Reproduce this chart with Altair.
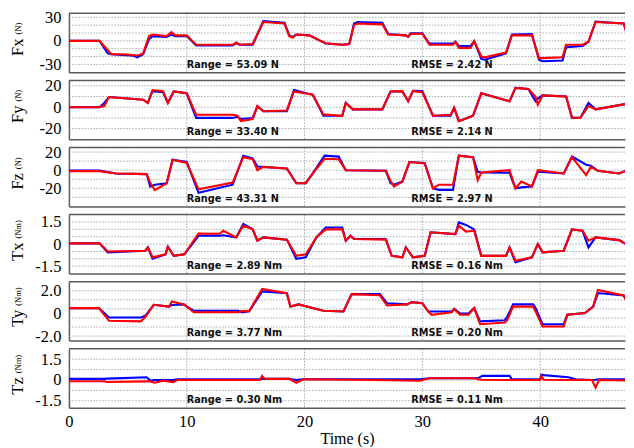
import altair as alt
import pandas as pd

# ---------------- data ----------------
FX_T = [0, 2.6, 3.3, 3.6, 4.5, 5.5, 5.8, 6.3, 6.8, 7.1, 8.3, 8.7, 9.0, 10.0, 10.8, 13.9, 14.2, 14.5, 15.6,
        16.5, 18.3, 18.7, 19.0, 19.3, 20.4, 21.8, 23.2, 23.8, 24.2, 24.5, 26.6, 27.1, 28.6, 28.8, 29.0, 30.0,
        30.6, 32.6, 32.8, 33.1, 34.1, 34.4, 35.0, 35.3, 37.1, 37.6, 39.3, 39.9, 40.2, 41.9, 42.2, 43.6, 44.1,
        44.7, 47.1, 47.5, 48.0]
FX_B = [0, 0, -16, -17, -18, -19, -21, -17, 2, 6, 5, 8, 6, 6, -6, -6, -3, -5, -5,
        25, 23, 7, 5, 8, 7, -3.5, -5, -4, 22, 24, 23, 8.6, 7, 5, 9.5, 9.5,
        -3.5, -3.5, -1, -6.5, -6.5, -0.5, -23, -24, -16, 8, 8.6, -24, -26, -25, -8, -6.5, -1.3,
        24.5, 22, 1, 0]
FX_R = [0, 0, -12, -17, -17, -18, -19, -16, 6, 8, 6, 11, 7, 7, -5, -5, -2, -5, -4,
        24, 22, 6, 4, 8, 7, -3, -5, -4, 20, 22, 21, 8, 7, 5, 9, 9,
        -5, -5, -1, -9, -9, -0.5, -20, -21, -15, 7, 7, -22, -22, -21, -5, -5, -1,
        24, 22, 1, 0]

FY_T = [0, 2.6, 3.0, 3.4, 6.3, 6.7, 7.1, 8.0, 8.4, 8.9, 10.0, 10.8, 13.9, 14.3, 14.6, 15.6, 16.0, 16.5,
        18.5, 19.1, 20.7, 21.6, 23.2, 23.5, 24.1, 26.6, 27.3, 28.3, 28.8, 29.2, 30.0, 30.9, 32.4, 32.7,
        33.1, 34.3, 35.0, 37.4, 37.9, 39.0, 39.6, 39.8, 40.2, 42.2, 42.7, 43.4, 44.1, 44.7, 47.8, 48.0]
FY_B = [0, 0, 4, 9.5, 7, 4, 15, 14, 4, 14.7, 13, -10, -10, -9, -11, -10, 1, -3.7,
        -3.7, 16, 11.6, -8, -8, 4, -2, -2, 14.7, 14.7, 5.5, 15.3, 15, -8, -8, -0.6,
        -13, -8, 13, 5.5, 18, 17, 5.5, 8, 11, 10, -9.8, -10, 4, -2, 4, 4]
FY_R = [0, 0, 1, 9.5, 7, 4, 16, 15, 4, 14.7, 13, -7, -7, -8, -13, -11, 1, -3.7,
        -3, 14.7, 11.6, -6.7, -8, 4, -2, -2, 14.7, 15, 5.5, 15, 14, -8, -7, -0.6,
        -13, -8, 13, 5.5, 18, 17, 10, 2.4, 11, 10, -9.8, -10, 1, -2, 4, 4]

FZ_T = [0, 2.6, 4.0, 6.6, 6.9, 7.3, 8.3, 8.8, 10.0, 11.0, 13.9, 14.8, 15.6, 16.0, 16.5, 18.5, 19.3, 20.1,
        20.7, 21.7, 22.9, 23.5, 26.9, 27.3, 27.6, 28.3, 28.9, 30.2, 30.9, 31.4, 32.6, 33.1, 34.3, 34.7,
        35.0, 37.4, 37.9, 38.4, 39.3, 39.8, 42.0, 42.7, 43.9, 44.3, 44.9, 46.7, 47.8, 48.0]
FZ_B = [-0.5, -0.5, -3.6, -4.3, -18, -16, -14.4, 11.5, 9, -25, -16, 16, 13, 4, 3.6, 1.8, -14.4, -14.4,
        -3.6, 16, 15, 0, -0.7, -14.4, -16, -12.6, 9, 8, -20, -21.7, -21.7, 16, 14.4, -1.8,
        -2.5, -2.9, -20, -19, -18, -1.8, -3.6, 15, 6, 5, -0.7, -3.6, 1.8, 1.8]
FZ_R = [-1, -1, -3.6, -4.3, -14, -22, -14.4, 11.5, 8, -21, -13.7, 14.4, 12, 0, 3.6, 1.8, -14.4, -14.4,
        -3.6, 12.6, 12, 0, -0.7, -12, -18, -12.6, 9, 7.5, -20, -16, -16, 16, 14.4, -11,
        -2.5, 0, -20, -12.6, -18, 0, -3.6, 14.4, -5.4, 3.6, -0.7, -3.6, 1.8, 1.8]

TX_T = [0, 2.6, 3.3, 6.5, 6.7, 7.1, 8.2, 8.4, 8.9, 9.8, 11.0, 12.8, 13.1, 14.2, 14.8, 15.6, 16.0, 16.5,
        18.5, 19.3, 20.1, 21.0, 21.8, 23.2, 23.5, 23.9, 24.2, 26.9, 27.4, 28.3, 28.6, 29.2, 30.2, 30.7,
        32.8, 33.1, 33.7, 34.4, 35.0, 37.1, 37.4, 37.9, 39.3, 39.8, 40.2, 42.0, 42.7, 43.6, 44.1, 44.7,
        46.7, 47.8, 48.0]
TX_B = [0.05, 0.05, -0.56, -0.45, -0.23, -1.0, -0.7, -0.18, -0.8, -0.7, 0.56, 0.56, 0.6, 0.45, 1.36, 1.0, 0.23, 0.45,
        0.3, -1.0, -0.9, 0.45, 1.13, 1.13, 0.23, 0.57, 0.34, 0.34, -0.8, -0.9, -0.23, -0.9, -0.8, 0.8,
        0.68, 1.47, 1.3, 1.0, -0.8, -0.8, -0.23, -1.24, -0.9, 0.0, -0.56, -0.45, 1.0, 0.9, -0.23, 0.45,
        0.27, -0.23, -0.23]
TX_R = [0.05, 0.05, -0.5, -0.45, -0.23, -0.9, -0.7, -0.18, -0.8, -0.7, 0.72, 0.7, 0.9, 0.45, 1.24, 1.0, 0.23, 0.45,
        0.3, -0.8, -0.7, 0.45, 1.0, 1.0, 0.23, 0.57, 0.34, 0.3, -0.8, -0.9, -0.23, -0.9, -0.8, 0.8,
        0.68, 1.24, 0.85, 0.9, -0.8, -0.8, -0.23, -1.13, -0.9, 0.0, -0.56, -0.45, 1.0, 0.9, 0.23, 0.45,
        0.27, -0.23, -0.23]

TY_T = [0, 2.55, 3.4, 6.1, 6.5, 7.2, 8.5, 8.75, 9.75, 10.6, 14.4, 14.7, 15.3, 16.4, 18.5, 18.8, 19.5, 21.6,
        23.3, 24.0, 26.4, 27.0, 28.7, 29.1, 30.0, 30.5, 30.8, 32.5, 32.7, 33.2, 33.9, 34.4, 34.9, 37.0,
        37.2, 37.7, 39.4, 39.6, 40.2, 42.0, 42.3, 43.8, 44.5, 44.9, 47.1, 47.6, 48.0]
TY_B = [0.47, 0.47, -0.36, -0.36, -0.2, 0.76, 0.6, 0.75, 0.8, 0.23, 0.23, 0.1, 0.2, 1.94, 1.79, 0.61, 0.8, 0.23,
        0.17, 1.7, 1.7, 0.9, 0.8, 1.0, 0.9, 0.17, 0.17, 0.17, 0.4, 0.0, 0.0, 0.47, -0.7, -0.6,
        -0.3, 0.8, 0.8, 0.5, -0.95, -0.95, -0.12, 0.03, 0.6, 1.8, 1.58, 0.47, 0.47]
TY_R = [0.47, 0.47, -0.65, -0.7, -0.3, 0.76, 0.6, 1.06, 0.8, 0.1, 0.1, 0.2, 0.2, 2.17, 1.79, 0.61, 0.8, 0.23,
        0.17, 1.7, 1.6, 0.7, 0.8, 1.0, 0.9, 0.17, -0.12, 0.1, 0.4, -0.12, -0.12, 0.47, -0.95, -0.8,
        -0.6, 0.6, 0.6, 0.2, -1.15, -1.15, -0.12, 0.03, 0.6, 2.08, 1.58, 0.47, 0.47]

TZ_T = [0, 3.05, 3.2, 6.6, 6.9, 7.3, 8.0, 8.85, 9.2, 16.2, 16.4, 16.6, 18.7, 19.3, 19.9, 25.8, 29.8, 30.6,
        34.5, 34.7, 35.1, 37.4, 37.6, 40.0, 40.1, 40.3, 42.4, 43.0, 44.4, 44.7, 45.0, 47.8, 48.0]
TZ_B = [0.08, 0.08, 0.1, 0.2, -0.04, 0.0, 0.0, 0.0, 0.05, 0.05, 0.08, 0.08, 0.08, 0.0, 0.05, 0.05, 0.05, 0.12,
        0.12, 0.12, 0.3, 0.3, 0.05, 0.05, 0.38, 0.35, 0.2, 0.05, 0.0, 0.02, 0.05, 0.05, 0.05]
TZ_R = [-0.09, -0.09, -0.15, -0.1, -0.1, -0.2, -0.05, -0.15, 0.0, 0.0, 0.3, 0.08, 0.08, -0.2, 0.05, 0.0, -0.05, 0.12,
        0.12, 0.05, 0.02, 0.0, 0.0, 0.0, 0.3, 0.02, 0.0, 0.0, 0.0, -0.55, 0.0, -0.05, -0.05]

SERIES = [(FX_T, FX_B, FX_R), (FY_T, FY_B, FY_R), (FZ_T, FZ_B, FZ_R),
          (TX_T, TX_B, TX_R), (TY_T, TY_B, TY_R), (TZ_T, TZ_B, TZ_R)]
NAMES = ["Fx", "Fy", "Fz", "Tx", "Ty", "Tz"]
UNITS = ["(N)", "(N)", "(N)", "(Nm)", "(Nm)", "(Nm)"]
RANGE_LABELS = ["Range = 53.09 N", "Range = 33.40 N", "Range = 43.31 N",
                "Range = 2.89 Nm", "Range = 3.77 Nm", "Range = 0.30 Nm"]
RMSE_LABELS = ["RMSE = 2.42 N", "RMSE = 2.14 N", "RMSE = 2.97 N",
               "RMSE = 0.16 Nm", "RMSE = 0.20 Nm", "RMSE = 0.11 Nm"]
ANNOT_T = [10, 29.05]
Y_DOMAINS = [[-40, 35], [-30, 25], [-40, 25], [-2, 2], [-2.4, 2.8], [-2, 2.25]]
Y_TICKS = [[-30, 0, 30], [-20, 0, 20], [-20, 0, 20], [-1.5, 0, 1.5], [-2, 0, 2], [-1.5, 0, 1.5]]
Y_GRID = [[-30, -20, -10, 0, 10, 20, 30], [-20, -10, 0, 10, 20], [-30, -20, -10, 0, 10, 20],
          [-1.5, -1, -0.5, 0, 0.5, 1, 1.5], [-2, -1.2, -0.4, 0.4, 1.2, 2], [-1.5, -0.75, 0, 0.75, 1.5]]
Y_FMT = ["d", "d", "d", ".1f", ".1f", ".1f"]
X_TICKS = [0, 10, 20, 30, 40]
X_GRID = [10, 20, 30, 40]
X_DOMAIN = [0, 47.2]

# ---------------- styling ----------------
W, H = 557, 59
SERIF = "Liberation Serif"
FRAME = "#5a5a5a"
GRIDC = "#aaaaaa"
BLUE, RED = "#0000ff", "#ff0000"

CHAR_W = {"F": 0.556, "T": 0.611, "x": 0.5, "y": 0.5, "z": 0.444,
          "(": 0.333, ")": 0.333, "N": 0.722, "m": 0.778}
NAME_FS, UNIT_FS = 16.5, 8.5
TITLE_X = -51


def text_len(s, fs):
    return sum(CHAR_W.get(c, 0.5) for c in s) * fs


panels = []
for i, (ts, bv, rv) in enumerate(SERIES):
    last = i == len(SERIES) - 1
    fmt = Y_FMT[i]
    label_expr = ("datum.value == 0 ? '0' : (datum.value < 0 ? '-' : '') + "
                  "format(abs(datum.value), '%s')" % fmt)
    xaxis = alt.Axis(values=X_TICKS, grid=False, ticks=False, domain=True,
                     domainColor=FRAME, domainWidth=1.5,
                     labels=last, title="Time (s)" if last else "",
                     labelFont=SERIF, labelFontSize=16.5, labelColor="black",
                     labelPadding=6, labelFlush=False,
                     titleFont=SERIF, titleFontSize=16, titleFontWeight="normal",
                     titleColor="black", titlePadding=0)
    yaxis = alt.Axis(values=Y_TICKS[i], labelExpr=label_expr, grid=False, ticks=False,
                     domain=True, domainColor=FRAME, domainWidth=1.5, title="",
                     labelFont=SERIF, labelFontSize=16.5, labelColor="black",
                     labelPadding=8)
    xs = alt.Scale(domain=X_DOMAIN, nice=False, zero=False)
    ys = alt.Scale(domain=Y_DOMAINS[i], nice=False, zero=False)

    blue_df = pd.DataFrame({"t": ts, "v": bv})
    red_df = pd.DataFrame({"t": ts, "v": rv})
    vgrid_df = pd.DataFrame({"t": X_GRID})
    hgrid_df = pd.DataFrame({"v": Y_GRID[i]})
    ann_df = pd.DataFrame({"t": ANNOT_T, "lab": [RANGE_LABELS[i], RMSE_LABELS[i]]})

    vgrid = alt.Chart(vgrid_df).mark_rule(color=GRIDC, strokeDash=[1.5, 1.5], strokeWidth=1).encode(
        x=alt.X("t:Q", scale=xs, axis=xaxis))
    hgrid = alt.Chart(hgrid_df).mark_rule(color=GRIDC, strokeDash=[1.5, 1.5], strokeWidth=1).encode(
        y=alt.Y("v:Q", scale=ys, axis=yaxis))
    top = alt.Chart(pd.DataFrame({"k": [0]})).mark_rule(color=FRAME, strokeWidth=1.5).encode(
        y=alt.value(0))
    lb = alt.Chart(blue_df).mark_line(color=BLUE, strokeWidth=2.1, clip=True).encode(
        x=alt.X("t:Q", scale=xs, axis=xaxis), y=alt.Y("v:Q", scale=ys, axis=yaxis))
    lr = alt.Chart(red_df).mark_line(color=RED, strokeWidth=2.1, clip=True).encode(
        x=alt.X("t:Q", scale=xs, axis=xaxis), y=alt.Y("v:Q", scale=ys, axis=yaxis))
    ann = alt.Chart(ann_df).mark_text(align="left", baseline="middle", font="DejaVu Sans",
                                      fontWeight="bold", fontSize=9.8, color="#111111").encode(
        x=alt.X("t:Q", scale=xs), y=alt.value(H - 7.5), text="lab:N")

    # rotated y title: big name + small unit
    nw = text_len(NAMES[i], NAME_FS)
    uw = text_len(UNITS[i], UNIT_FS)
    L = nw + 4 + uw
    top_y = 26 - L / 2
    name_t = alt.Chart(pd.DataFrame({"s": [NAMES[i]]})).mark_text(
        angle=270, align="right", baseline="middle", font=SERIF, fontSize=NAME_FS,
        color="black").encode(x=alt.value(TITLE_X), y=alt.value(top_y + uw + 4), text="s:N")
    unit_t = alt.Chart(pd.DataFrame({"s": [UNITS[i]]})).mark_text(
        angle=270, align="left", baseline="middle", font=SERIF, fontSize=UNIT_FS,
        color="black").encode(x=alt.value(TITLE_X), y=alt.value(top_y + uw), text="s:N")

    panel = alt.layer(vgrid, hgrid, top, lb, lr, ann, name_t, unit_t).properties(width=W, height=H)
    panels.append(panel)

chart = alt.vconcat(*panels, spacing=8.2, bounds="flush").properties(
    padding={"left": 2, "top": 0, "right": 0, "bottom": 0}
).configure_view(stroke=None)

chart.save("out.html", embed_options={"renderer": "svg", "actions": False})
